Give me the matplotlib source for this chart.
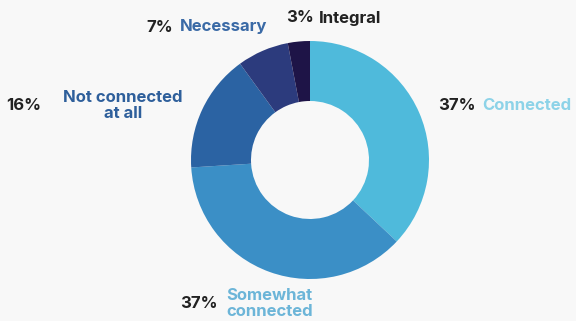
import matplotlib
matplotlib.use("Agg")
import matplotlib.pyplot as plt

labels = ["Connected", "Somewhat\nconnected", "Not connected\nat all", "Necessary", "Integral"]
values = [37, 37, 16, 7, 3]
colors = ["#4fbadb", "#3b8fc6", "#2b63a3", "#2c3b7d", "#1e1447"]
label_colors = ["#8dd3e8", "#6cb5d8", "#2e5f9b", "#3a6aa6", "#222222"]

W, H = 576, 321
fig = plt.figure(figsize=(W / 100, H / 100), dpi=100)
fig.patch.set_facecolor("#f8f8f8")
ax = fig.add_axes([0, 0, 1, 1])

ax.pie(values, colors=colors, startangle=90, counterclock=False,
       center=(310, 161), radius=119,
       wedgeprops=dict(width=60, edgecolor="none"))
ax.set_xlim(0, W)
ax.set_ylim(0, H)
ax.set_aspect("equal")
ax.axis("off")

font = dict(family=["Inter", "DejaVu Sans"], fontweight="bold", fontsize=12)
pct_color = "#222222"

# label placement: (pct x, label x, y, pct alignment, label alignment)
placements = [
    (476, 482, 215, "right", "left"),
    (218, 226, 18, "right", "left"),
    (41, 123, 216, "right", "center"),
    (173, 180, 294, "right", "left"),
    (314, 319, 303, "right", "left"),
]

for v, lab, lc, (px, lx, y, pa, la) in zip(values, labels, label_colors, placements):
    ax.text(px, y, f"{v}%", color=pct_color, ha=pa, va="center", **font)
    if "\n" in lab:
        first, second = lab.split("\n")
        ax.text(lx, y + 8, first, color=lc, ha=la, va="center", **font)
        ax.text(lx, y - 8, second, color=lc, ha=la, va="center", **font)
    else:
        ax.text(lx, y, lab, color=lc, ha=la, va="center", **font)

fig.savefig("out.png", dpi=100, facecolor=fig.get_facecolor())
